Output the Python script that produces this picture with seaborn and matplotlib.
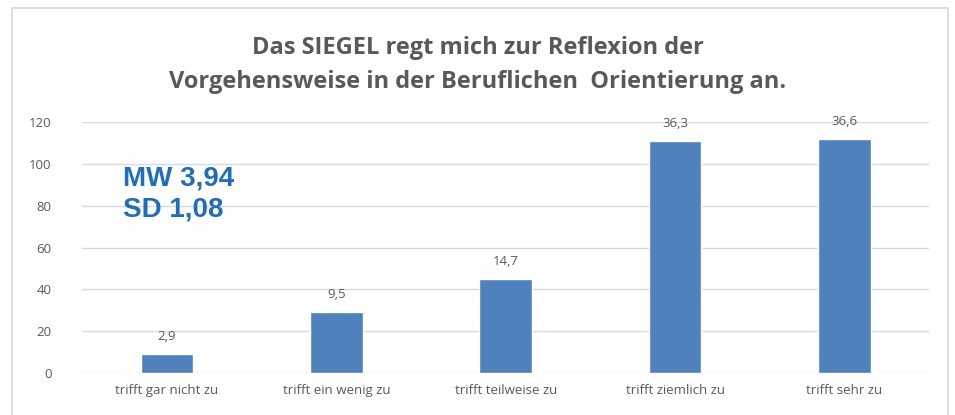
import matplotlib
matplotlib.use("Agg")
import matplotlib.pyplot as plt
import seaborn as sns
import pandas as pd
from matplotlib.patches import Rectangle

categories = [
    "trifft gar nicht zu",
    "trifft ein wenig zu",
    "trifft teilweise zu",
    "trifft ziemlich zu",
    "trifft sehr zu",
]
counts = [9, 29, 45, 111, 112]
percent_labels = ["2,9", "9,5", "14,7", "36,3", "36,6"]
y_ticks = [0, 20, 40, 60, 80, 100, 120]
title = "Das SIEGEL regt mich zur Reflexion der\nVorgehensweise in der Beruflichen  Orientierung an."
stats_text = "MW 3,94\nSD 1,08"

sns.set_theme(style="white")
plt.rcParams["font.family"] = ["Open Sans", "DejaVu Sans"]

GRAY = "#595959"
BAR = "#4F81BD"

df = pd.DataFrame({"category": categories, "count": counts})

fig = plt.figure(figsize=(9.55, 4.15), dpi=100)
ax = fig.add_axes([0.086, 0.101, 0.887, 0.605])

sns.barplot(data=df, x="category", y="count", color=BAR, width=0.31,
            saturation=1, ax=ax, zorder=3)

ax.set_ylim(0, 120)
ax.set_yticks(y_ticks)
ax.set_xlim(-0.5, len(categories) - 0.5)
ax.grid(axis="y", color="#D9D9D9", linewidth=1, zorder=0)
ax.set_axisbelow(True)
for s in ax.spines.values():
    s.set_visible(False)
ax.set_xlabel("")
ax.set_ylabel("")
ax.tick_params(axis="both", length=0, colors=GRAY, labelsize=9.5)
ax.tick_params(axis="y", pad=22)
ax.tick_params(axis="x", pad=8)

for i, (c, lab) in enumerate(zip(counts, percent_labels)):
    ax.annotate(lab, (i, c), xytext=(0, 8), textcoords="offset points",
                ha="center", va="bottom", fontsize=9.5, color=GRAY)

fig.text(0.5, 0.843, title, ha="center", va="center", fontsize=17,
         fontweight="bold", color=GRAY, linespacing=1.55,
         family=["Liberation Sans Narrow", "Open Sans", "DejaVu Sans"])

ax.text(0.048, 0.715, stats_text, transform=ax.transAxes, ha="left", va="center",
        fontsize=20, fontweight="bold", color="#1F6CC0", linespacing=1.25,
        family=["Liberation Sans", "DejaVu Sans"])

fig.patches.append(Rectangle((12 / 955, -0.01), 936 / 955, 1 - 8 / 415 + 0.01,
                             transform=fig.transFigure, fill=False,
                             edgecolor="#D9D9D9", linewidth=1.2))

fig.savefig("out.png", dpi=100)
